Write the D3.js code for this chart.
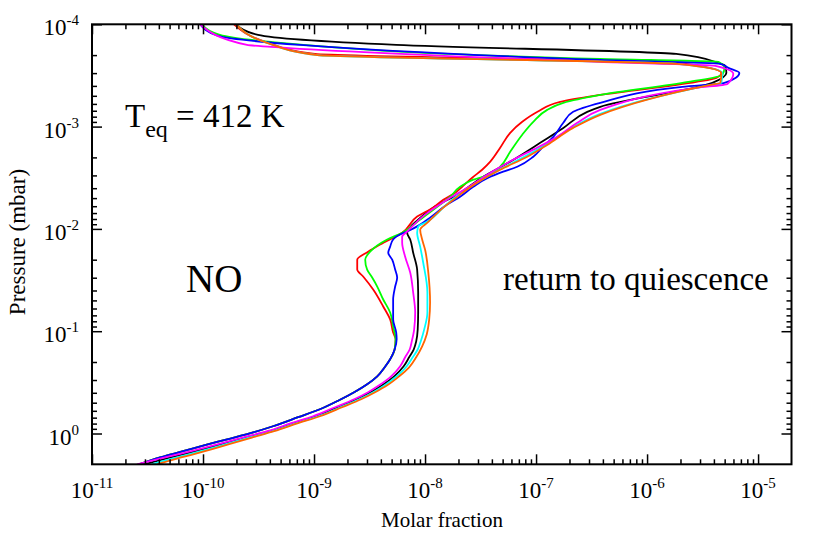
<!DOCTYPE html>
<html>
<head>
<meta charset="utf-8">
<script src="https://cdn.jsdelivr.net/npm/d3@7"></script>
<style>
body { margin: 0; background: #fff; }
text { font-family: "Liberation Serif", "Times New Roman", serif; fill: #000; }
</style>
</head>
<body>
<script>
// molar fraction vs pressure (mbar), one array per run
var black = [[1.99e-10,1e-4],[3.13e-10,1.27e-4],[5.5e-9,1.59e-4],[1.83e-6,1.95e-4],[4.39e-6,2.39e-4],[5.07e-6,2.55e-4],[5.18e-6,2.99e-4],[3.87e-6,3.74e-4],[3.79e-7,6.41e-4],[2.89e-7,7.17e-4],[1.76e-7,1.03e-3],[1.09e-7,1.44e-3],[5.85e-8,2.2e-3],[3.34e-8,3.09e-3],[1.95e-8,4.63e-3],[1.18e-8,6.2e-3],[8.67e-9,8.11e-3],[6.9e-9,1.09e-2],[7.35e-9,1.27e-2],[7.82e-9,1.71e-2],[8.49e-9,2.5e-2],[8.67e-9,4.19e-2],[8.67e-9,6.56e-2],[8.59e-9,9.6e-2],[8.32e-9,0.126],[7.9e-9,0.151],[7.19e-9,0.18],[6.42e-9,0.22],[5.27e-9,0.276],[4.11e-9,0.338],[3.24e-9,0.395],[2.42e-9,0.463],[1.63e-9,0.554],[1.03e-9,0.678],[6.55e-10,0.793],[3.98e-10,0.95],[2.49e-10,1.087],[1.49e-10,1.27],[1.01e-10,1.42],[6.75e-11,1.59],[4.46e-11,1.78],[2.94e-11,2.0]]
var red = [[1.9e-10,1e-4],[3.7e-10,1.49e-4],[1.02e-9,1.95e-4],[1.87e-6,2.39e-4],[4.67e-6,2.99e-4],[4.21e-6,3.34e-4],[2.78e-6,3.66e-4],[3.79e-7,4.9e-4],[1.65e-7,5.73e-4],[1.03e-7,7.17e-4],[7.51e-8,8.98e-4],[5.85e-8,1.15e-3],[4.75e-8,1.61e-3],[3.87e-8,2.2e-3],[3.27e-8,2.64e-3],[2.66e-8,3.16e-3],[2.16e-8,3.87e-3],[1.87e-8,4.43e-3],[1.46e-8,5.18e-3],[1.18e-8,6.2e-3],[8.49e-9,7.58e-3],[6.22e-9,1.09e-2],[3.94e-9,1.42e-2],[3.07e-9,1.67e-2],[2.45e-9,2.0e-2],[2.45e-9,2.5e-2],[2.77e-9,2.92e-2],[3.41e-9,3.91e-2],[4.2e-9,5.73e-2],[4.85e-9,7.67e-2],[5.16e-9,0.103],[5.43e-9,0.12],[5.32e-9,0.151],[4.85e-9,0.188],[4.33e-9,0.225],[3.71e-9,0.276],[3.01e-9,0.33],[2.3e-9,0.395],[1.68e-9,0.473],[1.13e-9,0.579],[7.19e-10,0.693],[4.27e-10,0.849],[2.88e-10,0.97],[1.65e-10,1.14],[1.04e-10,1.3],[6.61e-11,1.49],[4.19e-11,1.7],[2.65e-11,2.0]]
var green = [[9.8e-11,1e-4],[1.42e-10,1.27e-4],[4.11e-10,1.49e-4],[3.79e-7,2.18e-4],[4.39e-6,2.33e-4],[4.97e-6,2.67e-4],[4.77e-6,3.12e-4],[2.35e-6,3.66e-4],[3.79e-7,4.9e-4],[1.76e-7,5.86e-4],[1.26e-7,6.86e-4],[9.44e-8,8.98e-4],[7.51e-8,1.2e-3],[5.85e-8,1.76e-3],[4.75e-8,2.47e-3],[3.87e-8,2.95e-3],[2.72e-8,3.3e-3],[2.07e-8,3.87e-3],[1.69e-8,4.84e-3],[1.37e-8,5.79e-3],[9.04e-9,8.11e-3],[6.22e-9,1.09e-2],[4.56e-9,1.27e-2],[3.2e-9,1.67e-2],[2.89e-9,2.0e-2],[3.01e-9,2.5e-2],[3.34e-9,2.99e-2],[3.71e-9,3.66e-2],[4.2e-9,4.9e-2],[4.85e-9,6.56e-2],[5.16e-9,8.98e-2],[5.43e-9,0.12],[5.32e-9,0.151],[4.85e-9,0.188],[4.33e-9,0.225],[3.71e-9,0.276],[3.01e-9,0.33],[2.3e-9,0.395],[1.68e-9,0.473],[1.13e-9,0.579],[7.19e-10,0.693],[4.27e-10,0.849],[2.88e-10,0.97],[1.65e-10,1.14],[1.04e-10,1.3],[6.61e-11,1.49],[4.19e-11,1.7],[2.65e-11,2.0]]
var blue = [[9.4e-11,1e-4],[1.37e-10,1.3e-4],[7.5e-10,1.59e-4],[3.79e-7,2.23e-4],[4.57e-6,2.44e-4],[5.4e-6,2.67e-4],[6.78e-6,2.99e-4],[4.97e-6,3.74e-4],[2.08e-6,4.09e-4],[3.79e-7,5.86e-4],[2.16e-7,7.17e-4],[1.76e-7,9.18e-4],[1.43e-7,1.26e-3],[1.16e-7,1.57e-3],[9.44e-8,1.97e-3],[6.77e-8,2.47e-3],[5.06e-8,2.76e-3],[3.71e-8,3.16e-3],[2.72e-8,3.87e-3],[2.07e-8,4.84e-3],[1.58e-8,5.79e-3],[1.11e-8,7.76e-3],[9.04e-9,9.08e-3],[6.9e-9,1.06e-2],[6.22e-9,1.11e-2],[5.16e-9,1.27e-2],[4.85e-9,1.49e-2],[4.66e-9,1.71e-2],[5.06e-9,2.0e-2],[5.38e-9,2.5e-2],[5.61e-9,2.99e-2],[5.38e-9,3.66e-2],[5.16e-9,4.9e-2],[5.16e-9,7.67e-2],[5.5e-9,0.103],[5.55e-9,0.12],[5.32e-9,0.151],[4.85e-9,0.188],[4.33e-9,0.225],[3.71e-9,0.276],[3.01e-9,0.33],[2.3e-9,0.395],[1.68e-9,0.473],[1.13e-9,0.579],[7.19e-10,0.693],[4.27e-10,0.849],[2.88e-10,0.97],[1.65e-10,1.14],[1.04e-10,1.3],[6.61e-11,1.49],[4.19e-11,1.7],[2.65e-11,2.0]]
var cyan = [[1.99e-10,1e-4],[3.78e-10,1.52e-4],[1.07e-9,2.0e-4],[1.87e-6,2.44e-4],[4.77e-6,2.99e-4],[4.67e-6,3.74e-4],[3.79e-6,3.91e-4],[3.79e-7,7.5e-4],[2.26e-7,9.8e-4],[1.29e-7,1.44e-3],[8.51e-8,1.88e-3],[4.86e-8,2.58e-3],[3.01e-8,3.46e-3],[1.99e-8,4.63e-3],[1.49e-8,6.06e-3],[1.05e-8,8.49e-3],[8.67e-9,9.5e-3],[8.49e-9,1.09e-2],[9.04e-9,1.49e-2],[9.62e-9,2.13e-2],[1.05e-8,4.19e-2],[1.05e-8,6.56e-2],[9.83e-9,9.6e-2],[9.14e-9,0.126],[8.59e-9,0.151],[7.74e-9,0.18],[6.84e-9,0.22],[5.55e-9,0.276],[4.33e-9,0.338],[3.41e-9,0.395],[2.55e-9,0.463],[1.72e-9,0.554],[1.09e-9,0.678],[6.9e-10,0.793],[4.19e-10,0.95],[2.65e-10,1.087],[1.6e-10,1.27],[1.11e-10,1.42],[7.56e-11,1.59],[5.05e-11,1.78],[3.4e-11,2.0]]
var magenta = [[9.4e-11,1e-4],[2.49e-10,1.59e-4],[4.11e-10,1.66e-4],[3.79e-7,2.33e-4],[4.12e-6,2.55e-4],[5.98e-6,3.05e-4],[5.29e-6,3.83e-4],[2.78e-6,4.18e-4],[3.79e-7,6.86e-4],[2.35e-7,9.18e-4],[1.55e-7,1.26e-3],[9.44e-8,1.68e-3],[6.22e-8,2.11e-3],[3.63e-8,2.95e-3],[2.4e-8,3.96e-3],[1.58e-8,5.18e-3],[1.0e-8,7.25e-3],[6.9e-9,1.06e-2],[6.22e-9,1.19e-2],[6.22e-9,1.36e-2],[6.62e-9,1.87e-2],[7.35e-9,2.67e-2],[7.82e-9,4.19e-2],[8.15e-9,6.56e-2],[7.98e-9,9.6e-2],[7.59e-9,0.126],[7.27e-9,0.151],[6.62e-9,0.18],[5.97e-9,0.22],[4.95e-9,0.276],[3.86e-9,0.338],[3.07e-9,0.395],[2.3e-9,0.463],[1.55e-9,0.554],[9.81e-10,0.678],[6.22e-10,0.793],[3.78e-10,0.95],[2.34e-10,1.087],[1.37e-10,1.27],[9.21e-11,1.42],[6.08e-11,1.59],[3.94e-11,1.78],[2.54e-11,2.0]]
var orange = [[1.99e-10,1e-4],[3.78e-10,1.52e-4],[1.07e-9,2.0e-4],[1.87e-6,2.44e-4],[4.67e-6,2.99e-4],[4.57e-6,3.74e-4],[3.72e-6,3.91e-4],[3.79e-7,7.67e-4],[2.16e-7,1.03e-3],[1.26e-7,1.51e-3],[8.33e-8,1.97e-3],[4.75e-8,2.64e-3],[2.95e-8,3.53e-3],[1.95e-8,4.84e-3],[1.46e-8,6.2e-3],[1.05e-8,8.69e-3],[9.04e-9,1.02e-2],[9.42e-9,1.27e-2],[1.0e-8,1.59e-2],[1.07e-8,2.67e-2],[1.11e-8,5.24e-2],[1.09e-8,7.67e-2],[1.035e-8,0.1075],[9.42e-9,0.1406],[8.32e-9,0.18],[7.19e-9,0.2254],[5.85e-9,0.276],[4.56e-9,0.338],[3.55e-9,0.395],[2.66e-9,0.463],[1.79e-9,0.554],[1.13e-9,0.678],[7.19e-10,0.793],[4.37e-10,0.95],[2.83e-10,1.087],[1.72e-10,1.27],[1.21e-10,1.42],[8.3e-11,1.59],[5.6e-11,1.78],[3.85e-11,2.0]]

var series = [
  {data: black, color: "#000000"},
  {data: red, color: "#ff0000"},
  {data: green, color: "#00ff00"},
  {data: blue, color: "#0000ff"},
  {data: cyan, color: "#00ffff"},
  {data: magenta, color: "#ff00ff"},
  {data: orange, color: "#ff6600"}
]

var xExponents = [-11, -10, -9, -8, -7, -6, -5]
var yExponents = [-4, -3, -2, -1, 0]

var plotLeft = 92, plotTop = 24.3, plotRight = 791.5, plotBottom = 464.3

var svg = d3.select("body")
  .append("svg")
  .attr("width", 830)
  .attr("height", 534)

var xScale = d3.scaleLog()
  .domain([1e-11, 2e-5])
  .range([plotLeft, plotRight])

var yScale = d3.scaleLog()
  .domain([1e-4, 2])
  .range([plotTop, plotBottom])

var xMajor = xExponents.map(function(e){ return Math.pow(10, e) })
var yMajor = yExponents.map(function(e){ return Math.pow(10, e) })

function minorTicks(exps, max){
  var out = []
  exps.forEach(function(e){
    for (var k = 2; k <= 9; k++) {
      var v = k * Math.pow(10, e)
      if (v < max * 0.999) out.push(v)
    }
  })
  return out
}
var xMinor = minorTicks(xExponents, 2e-5)
var yMinor = minorTicks(yExponents, 2)

svg.append("defs").append("clipPath").attr("id", "clip")
  .append("rect")
  .attr("x", plotLeft).attr("y", plotTop)
  .attr("width", plotRight - plotLeft).attr("height", plotBottom - plotTop)

var line = d3.line()
  .x(function(d){ return xScale(d[0]) })
  .y(function(d){ return yScale(d[1]) })
  .curve(d3.curveMonotoneY)

svg.append("g").attr("clip-path", "url(#clip)")
  .selectAll("path")
  .data(series)
  .enter()
  .append("path")
  .attr("d", function(d){ return line(d.data) })
  .attr("fill", "none")
  .attr("stroke", function(d){ return d.color })
  .attr("stroke-width", 1.8)
  .attr("stroke-linejoin", "round")

// axes with inward ticks on all four sides
function drawAxis(axisFn, scale, values, size, tr){
  var g = svg.append("g")
    .attr("transform", tr)
    .call(axisFn(scale).tickValues(values).tickSize(-size).tickFormat(""))
  g.select(".domain").remove()
  g.selectAll("line").attr("stroke", "#000").attr("stroke-width", 1.5)
}
drawAxis(d3.axisBottom, xScale, xMajor, 10, "translate(0," + plotBottom + ")")
drawAxis(d3.axisBottom, xScale, xMinor, 5, "translate(0," + plotBottom + ")")
drawAxis(d3.axisTop, xScale, xMajor, 10, "translate(0," + plotTop + ")")
drawAxis(d3.axisTop, xScale, xMinor, 5, "translate(0," + plotTop + ")")
drawAxis(d3.axisLeft, yScale, yMajor, 10, "translate(" + plotLeft + ",0)")
drawAxis(d3.axisLeft, yScale, yMinor, 5, "translate(" + plotLeft + ",0)")
drawAxis(d3.axisRight, yScale, yMajor, 10, "translate(" + plotRight + ",0)")
drawAxis(d3.axisRight, yScale, yMinor, 5, "translate(" + plotRight + ",0)")

svg.append("rect")
  .attr("x", plotLeft).attr("y", plotTop)
  .attr("width", plotRight - plotLeft).attr("height", plotBottom - plotTop)
  .attr("fill", "none").attr("stroke", "#000").attr("stroke-width", 2)

// tick labels 10^n
xExponents.forEach(function(e){
  var t = svg.append("text")
    .attr("x", xScale(Math.pow(10, e)))
    .attr("y", plotBottom + 34)
    .attr("text-anchor", "middle")
    .attr("font-size", 23)
  t.append("tspan").text("10")
  t.append("tspan").text(e).attr("font-size", 15).attr("dy", -10)
})
yExponents.forEach(function(e){
  var t = svg.append("text")
    .attr("x", plotLeft - 13)
    .attr("y", yScale(Math.pow(10, e)) + 11)
    .attr("text-anchor", "end")
    .attr("font-size", 23)
  t.append("tspan").text("10")
  t.append("tspan").text(e).attr("font-size", 15).attr("dy", -10)
})

svg.append("text").text("Molar fraction")
  .attr("x", 442).attr("y", 527)
  .attr("text-anchor", "middle").attr("font-size", 21)

svg.append("text").text("Pressure (mbar)")
  .attr("transform", "translate(25,242) rotate(-90)")
  .attr("text-anchor", "middle").attr("font-size", 23)

var teq = svg.append("text").attr("x", 125).attr("y", 127).attr("font-size", 33)
teq.append("tspan").text("T")
teq.append("tspan").text("eq").attr("font-size", 24).attr("dy", 10)
teq.append("tspan").text(" = 412 K").attr("dy", -10)

svg.append("text").text("NO")
  .attr("x", 186).attr("y", 292).attr("font-size", 39)

svg.append("text").text("return to quiescence")
  .attr("x", 503).attr("y", 290).attr("font-size", 33)
</script>
</body>
</html>
